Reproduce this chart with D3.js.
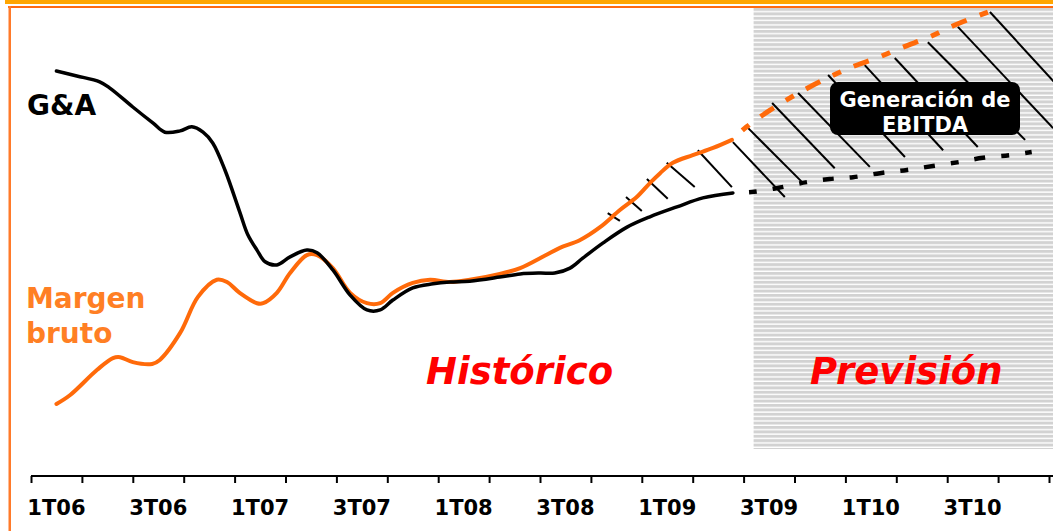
<!DOCTYPE html>
<html>
<head>
<meta charset="utf-8">
<script src="https://cdn.jsdelivr.net/npm/d3@7"></script>
<style>
  html, body { margin: 0; padding: 0; background: #fff; }
  svg { display: block; font-family: "DejaVu Sans", Verdana, sans-serif; }
</style>
</head>
<body>
<svg id="chart" width="1053" height="531"></svg>
<script>
// Quarters on the category axis and the labels shown under it
const quarters = ["1T06","2T06","3T06","4T06","1T07","2T07","3T07","4T07",
                  "1T08","2T08","3T08","4T08","1T09","2T09","3T09","4T09",
                  "1T10","2T10","3T10","4T10"];
const tickLabels = ["1T06","3T06","1T07","3T07","1T08","3T08","1T09","3T09","1T10","3T10"];

// Series as [quarter position (0 = 1T06), index value]
const gaHist = [
  [0.00,86.0],[0.40,84.9],[0.85,83.6],[1.05,82.2],[1.50,78.0],[1.90,74.4],
  [2.13,72.4],[2.43,72.7],[2.66,73.6],[2.88,72.4],[3.07,70.0],[3.31,64.0],
  [3.60,54.7],[3.76,49.6],[3.94,46.2],[4.10,43.6],[4.33,42.9],[4.59,44.7],
  [4.92,46.2],[5.12,45.6],[5.43,41.8],[5.77,36.2],[6.10,32.9],[6.36,32.9],
  [6.61,35.1],[7.00,37.8],[7.40,38.7],[7.73,39.1],[8.12,39.3],[8.71,40.2],
  [9.11,40.9],[9.50,41.1],[9.79,41.1],[10.09,42.2],[10.34,44.4],[10.74,47.8],
  [11.21,51.3],[11.66,53.6],[12.19,55.8],[12.70,57.8],[13.29,58.9]
];
const margenHist = [
  [0.00,12.0],[0.27,14.0],[0.80,19.6],[1.11,22.2],[1.25,22.4],[1.50,21.3],
  [1.88,20.9],[2.03,21.8],[2.43,27.8],[2.78,35.8],[3.15,39.6],[3.35,39.1],
  [3.60,36.7],[3.94,34.4],[4.06,34.4],[4.33,36.7],[4.59,41.1],[4.92,45.1],
  [5.12,45.1],[5.43,42.2],[5.77,36.7],[6.10,34.4],[6.36,34.4],[6.61,36.7],
  [7.00,38.9],[7.34,39.6],[7.73,39.1],[8.12,39.6],[8.71,40.9],[9.11,42.2],
  [9.60,45.0],[9.89,46.7],[10.28,48.4],[10.68,51.3],[11.07,55.1],[11.40,58.0],
  [11.66,61.1],[11.86,63.3],[12.11,65.6],[12.50,67.3],[12.90,68.9],[13.27,70.7]
];
const gaPrev = [
  [13.29,58.9],[13.66,59.1],[14.17,60.0],[14.74,61.3],[15.19,62.0],[15.65,62.4],
  [16.18,63.3],[16.71,64.0],[17.22,64.9],[17.75,65.8],[18.20,66.7],[18.73,67.3],
  [19.16,68.0]
];
const margenPrev = [
  [13.27,70.7],[13.56,73.6],[14.02,77.3],[14.61,81.3],[15.14,84.4],[15.63,86.9],
  [16.12,88.9],[16.63,91.3],[17.16,93.6],[17.69,96.4],[18.30,99.1]
];
// Hatching of the EBITDA gap: [q0, v0, q1, v1]
const hatch = [
  [10.83,54.4,11.07,52.7],[11.19,58.0,11.50,54.9],[11.60,62.0,12.01,57.6],
  [11.99,65.6,12.54,60.2],[12.60,68.4,13.27,60.2],[13.29,70.2,14.31,58.0],
  [13.59,73.3,14.65,61.3],[14.06,78.9,15.29,64.4],[14.57,81.1,15.98,64.7],
  [15.16,85.1,16.67,66.9],[15.88,87.3,17.42,68.4],[16.47,88.9,18.10,69.1],
  [17.12,92.4,19.03,70.7],[17.71,95.8,19.58,73.3],[18.34,99.1,20.11,77.3]
];
const forecastStart = "3T09";

const svg = d3.select("#chart");
const W = 1053, H = 531;
const orange = "#ff6a0a";

const xBand = d3.scaleBand().domain(quarters).range([31, 1049]);
const x = d3.scaleLinear().domain([-0.5, 19.5]).range([31, 1049]);
const y = d3.scaleLinear().domain([0, 100]).range([458, 8]);
const axisY = 476;

// Striped background of the forecast zone
const defs = svg.append("defs");
const pat = defs.append("pattern").attr("id", "stripes")
  .attr("patternUnits", "userSpaceOnUse").attr("width", 10).attr("height", 4.4)
  .attr("y", 8);
pat.append("rect").attr("width", 10).attr("height", 3).attr("fill", "#d2d2d2");

svg.append("rect")
  .attr("x", xBand(forecastStart) + 10)
  .attr("y", 8).attr("width", W).attr("height", 441)
  .attr("fill", "url(#stripes)");

// Frame: gold band on top, orange rules on top and left
svg.append("rect").attr("x", 5).attr("y", 0).attr("width", W).attr("height", 4).attr("fill", "#ffa500");
svg.append("rect").attr("x", 8).attr("y", 6).attr("width", W).attr("height", 2).attr("fill", "#ff6a10");
svg.append("rect").attr("x", 8.5).attr("y", 6).attr("width", 2.5).attr("height", H).attr("fill", "#ff7a2a");

// Hatching
svg.append("g").selectAll("line").data(hatch).join("line")
  .attr("x1", d => x(d[0])).attr("y1", d => y(d[1]))
  .attr("x2", d => x(d[2])).attr("y2", d => y(d[3]))
  .attr("stroke", "#000").attr("stroke-width", 2);

const line = d3.line().x(d => x(d[0])).y(d => y(d[1])).curve(d3.curveCatmullRom.alpha(0.5));

svg.append("path").attr("d", line(gaPrev)).attr("fill", "none")
  .attr("stroke", "#000").attr("stroke-width", 4.5)
  .attr("stroke-dasharray", "8 16 11 16").attr("stroke-dashoffset", 35);
svg.append("path").attr("d", line(margenPrev)).attr("fill", "none")
  .attr("stroke", orange).attr("stroke-width", 5)
  .attr("stroke-dasharray", "9 14 16 14").attr("stroke-dashoffset", 39);

svg.append("path").attr("d", line(margenHist)).attr("fill", "none")
  .attr("stroke", orange).attr("stroke-width", 4).attr("stroke-linecap", "round");
svg.append("path").attr("d", line(gaHist)).attr("fill", "none")
  .attr("stroke", "#000").attr("stroke-width", 3.5).attr("stroke-linecap", "round");

// Category axis
const axisG = svg.append("g").attr("transform", `translate(0,${axisY})`);
axisG.append("line").attr("x1", 31).attr("x2", W).attr("y1", 0).attr("y2", 0)
  .attr("stroke", "#000").attr("stroke-width", 2);
axisG.append("g")
  .call(d3.axisBottom(x).tickValues(d3.range(-0.5, 20, 1)).tickSize(7).tickFormat(""))
  .call(g => g.select(".domain").remove())
  .call(g => g.selectAll(".tick line").attr("stroke", "#000").attr("stroke-width", 2));
axisG.append("g")
  .call(d3.axisBottom(xBand).tickValues(tickLabels).tickSize(0).tickPadding(0))
  .call(g => g.select(".domain").remove())
  .call(g => g.selectAll(".tick text")
    .attr("y", 39).attr("dy", null)
    .attr("font-family", "DejaVu Sans, Verdana, sans-serif")
    .attr("font-size", 21).attr("font-weight", "bold").attr("fill", "#000"));

// Series labels
svg.append("text").attr("x", 27).attr("y", 115).text("G&A")
  .attr("font-size", 28).attr("font-weight", "bold").attr("fill", "#000");
svg.append("text").attr("x", 26).attr("y", 308).text("Margen")
  .attr("font-size", 28).attr("font-weight", "bold").attr("fill", "#ff7f24");
svg.append("text").attr("x", 26).attr("y", 343).text("bruto")
  .attr("font-size", 28).attr("font-weight", "bold").attr("fill", "#ff7f24");

// Zone titles
svg.append("text").attr("x", 426).attr("y", 384).text("Histórico")
  .attr("font-size", 37).attr("font-weight", "bold").attr("font-style", "italic").attr("fill", "#ff0000");
svg.append("text").attr("x", 810).attr("y", 384).text("Previsión")
  .attr("font-size", 37).attr("font-weight", "bold").attr("font-style", "italic").attr("fill", "#ff0000");

// EBITDA callout
const box = svg.append("g");
box.append("rect").attr("x", 830).attr("y", 82).attr("width", 190).attr("height", 53)
  .attr("rx", 8).attr("fill", "#000");
box.append("text").attr("x", 925).attr("y", 107).attr("text-anchor", "middle")
  .attr("font-size", 21).attr("font-weight", "bold").attr("fill", "#fff").text("Generación de");
box.append("text").attr("x", 925).attr("y", 132).attr("text-anchor", "middle")
  .attr("font-size", 21).attr("font-weight", "bold").attr("fill", "#fff").text("EBITDA");
</script>
</body>
</html>
